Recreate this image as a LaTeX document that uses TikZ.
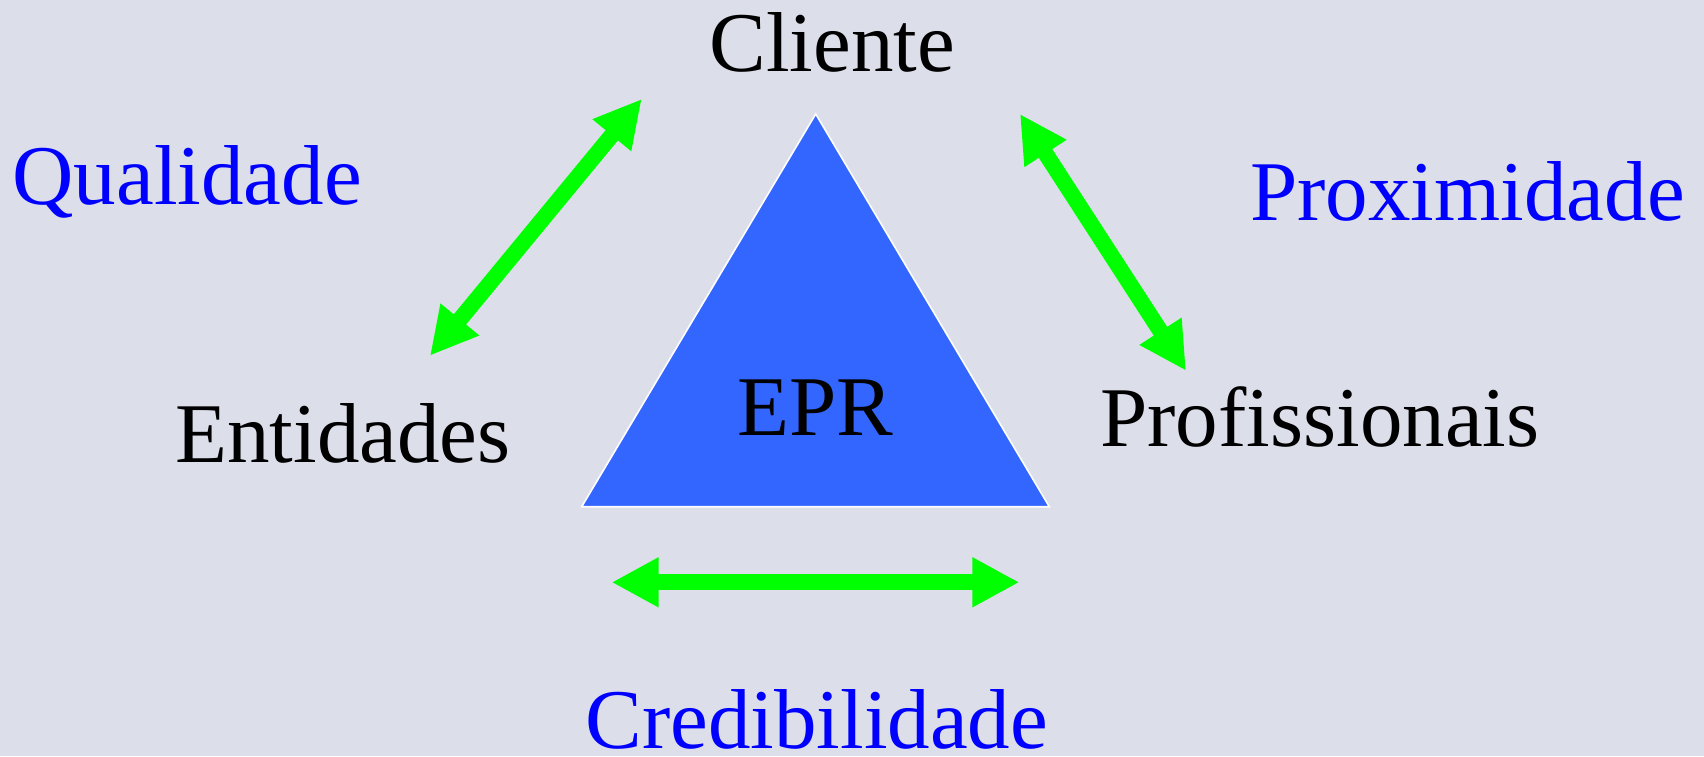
\documentclass[tikz,border=0pt]{standalone}
\usepackage{fontspec}
\setmainfont{Liberation Serif}
\usetikzlibrary{arrows.meta}
\definecolor{bgcol}{RGB}{220,222,234}
\definecolor{eprblue}{RGB}{51,102,255}

\begin{document}
\begin{tikzpicture}[x=0.5pt, y=-0.5pt,
    every node/.style={inner sep=0pt, anchor=base west, font=\fontsize{42.5}{50}\selectfont},
    actor/.style={text=black},
    value/.style={text=blue},
    link/.style={green, line width=8pt, >={Triangle[length=23.5pt, width=23.5pt]}, <->}]
    % Background
    \fill[bgcol] (0,0) rectangle (1704,756);
    % Triangle
    \coordinate (top) at (815.7,114);
    \coordinate (left) at (581.7,506.7);
    \coordinate (right) at (1049.3,506.7);
    \filldraw[fill=eprblue, draw=white, line width=0.8pt] (top) -- (left) -- (right) -- cycle;
    \node[anchor=base] (epr) at (815.5,435) {EPR};
    % Actors
    \node[actor] (cliente) at (709,71) {Cliente};
    \node[actor] (entidades) at (175,462.7) {Entidades};
    \node[actor] (profissionais) at (1100,446.7) {Profissionais};
    % Values
    \node[value] (qualidade) at (12,204) {Qualidade};
    \node[value] (proximidade) at (1250,220.7) {Proximidade};
    \node[value] (credibilidade) at (585,748.3) {Credibilidade};
    % Arrows
    \coordinate (q1) at (641.7,99);
    \coordinate (q2) at (430,355.7);
    \coordinate (p1) at (1020,114);
    \coordinate (p2) at (1186,370.7);
    \coordinate (c1) at (611.7,582.3);
    \coordinate (c2) at (1019.3,582.3);
    \draw[link] (q1) -- (q2);
    \draw[link] (p1) -- (p2);
    \draw[link] (c1) -- (c2);
\end{tikzpicture}
\end{document}
